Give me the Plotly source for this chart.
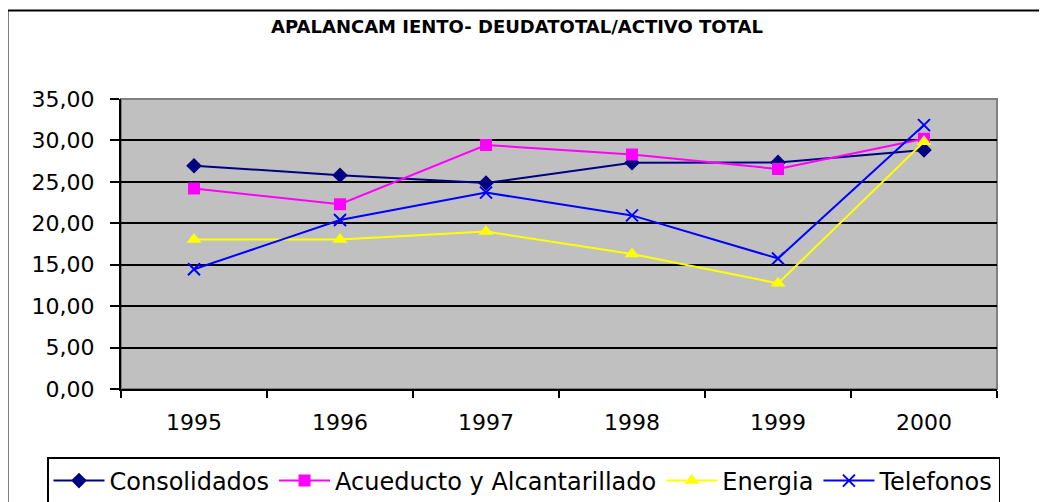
import plotly.graph_objects as go

years = ["1995", "1996", "1997", "1998", "1999", "2000"]
consolidados = [26.95, 25.8, 24.85, 27.3, 27.35, 28.85]
acueducto = [24.2, 22.3, 29.45, 28.3, 26.55, 30.2]
energia = [18.05, 18.05, 19.0, 16.3, 12.75, 29.85]
telefonos = [14.45, 20.4, 23.7, 20.95, 15.75, 31.85]

title_text = "APALANCAM IENTO- DEUDATOTAL/ACTIVO TOTAL"

# page offset (default body margin in the written html page)
OFF = 8
W, H = 1047 - OFF, 502 - OFF
# plot area in page pixels: x 121..997, y 99..389
L = 121 - OFF
T = 99 - OFF
R = W - (997 - OFF)
B = H - (389 - OFF)
PW, PH = W - L - R, H - T - B

def px_x(p):
    return (p - OFF - L) / PW

def px_y(p):
    return (H - B - (p - OFF)) / PH

fig = go.Figure()

series = [
    ("Consolidados", consolidados, "#000080", dict(symbol="diamond", size=12, color="#000080")),
    ("Acueducto y Alcantarillado", acueducto, "#FF00FF", dict(symbol="square", size=12, color="#FF00FF")),
    ("Energia", energia, "#FFFF00", dict(symbol="triangle-up", size=13, color="#FFFF00")),
    ("Telefonos", telefonos, "#0000FF", dict(symbol="x-thin-open", size=12, color="#0000FF",
                                              line=dict(width=2, color="#0000FF"))),
]
for name, vals, col, mk in series:
    fig.add_trace(go.Scatter(x=years, y=vals, name=name, mode="lines+markers",
                             line=dict(color=col, width=2), marker=mk))

fig.update_layout(
    width=W, height=H,
    margin=dict(l=L, r=R, t=T, b=B, autoexpand=False),
    paper_bgcolor="white",
    plot_bgcolor="#C0C0C0",
    separators=",.",
    font=dict(family="DejaVu Sans", size=22, color="black"),
    title=dict(text="<b>" + title_text + "</b>", x=(517 - OFF) / W, xanchor="center",
               y=1 - (27 - OFF) / H, yanchor="middle",
               font=dict(family="DejaVu Sans", size=18, color="black")),
    showlegend=True,
    legend=dict(orientation="h", x=px_x(47), xanchor="left", y=px_y(457), yanchor="top",
                bordercolor="black", borderwidth=1.5, bgcolor="white",
                font=dict(family="DejaVu Sans", size=24, color="black"),
                itemwidth=51, tracegroupgap=0),
    xaxis=dict(type="category", range=[-0.5, 5.5], tickson="boundaries",
               ticks="outside", ticklen=7, tickwidth=1.5, tickcolor="black",
               showline=True, linecolor="black", linewidth=2,
               showgrid=False, ticklabelstandoff=13, zeroline=False),
    yaxis=dict(range=[0, 35], dtick=5, tick0=0, tickformat=".2f",
               ticks="outside", ticklen=9, tickwidth=1.5, tickcolor="black",
               showline=True, linecolor="black", linewidth=2,
               showgrid=True, gridcolor="black", gridwidth=1.5,
               ticklabelstandoff=11, zeroline=False),
    shapes=[
        dict(type="rect", xref="paper", yref="paper", x0=0, x1=1, y0=0, y1=1,
             line=dict(color="#808080", width=2), layer="below"),
        dict(type="rect", xref="paper", yref="paper",
             x0=px_x(7.5), x1=px_x(1200), y0=px_y(700), y1=px_y(10.5),
             line=dict(color="black", width=2), fillcolor="rgba(0,0,0,0)"),
    ],
)

fig.write_html("out.html")
